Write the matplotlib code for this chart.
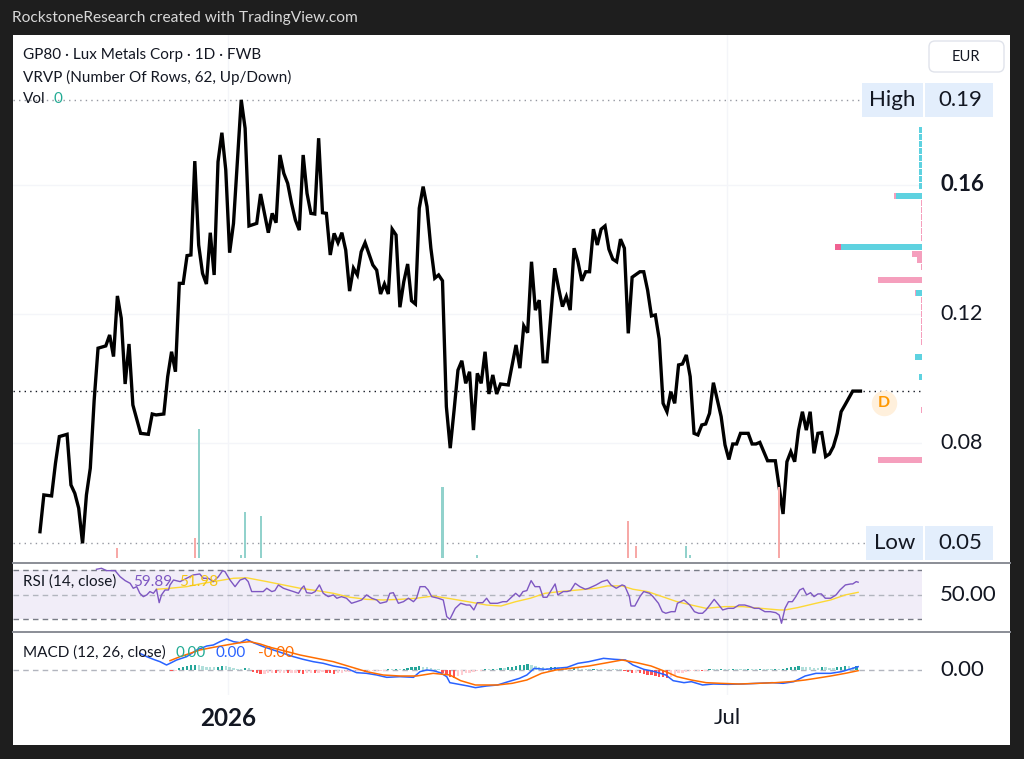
import matplotlib.pyplot as plt
import matplotlib.transforms as mtransforms
from matplotlib.patches import Rectangle, FancyBboxPatch
from matplotlib.lines import Line2D

plt.rcParams['font.family'] = ['Lato', 'DejaVu Sans']

# ---- data (x = bar number, bar 0 = first close) ----
close_pts = [
    (0, 0.0525), (1, 0.0639), (3, 0.0636), (4, 0.0737), (5, 0.0820), (7, 0.0827),
    (8, 0.0670), (9, 0.0644), (10, 0.0598), (11, 0.0489), (12, 0.0639), (13, 0.0722),
    (14, 0.0933), (15, 0.1094), (17, 0.1101), (18, 0.1135), (19, 0.1068), (20, 0.1256),
    (21, 0.1187), (22, 0.0983), (23, 0.1107), (24, 0.0918), (26, 0.0830), (28, 0.0827),
    (29, 0.0890), (30, 0.0887), (32, 0.0890), (33, 0.1006), (34, 0.1083), (35, 0.1021),
    (36, 0.1295), (37, 0.1295), (38, 0.1381), (39, 0.1383), (40, 0.1674), (41, 0.1414),
    (42, 0.1326), (43, 0.1293), (44, 0.1452), (45, 0.1321), (46, 0.1672), (47, 0.1762),
    (48, 0.1647), (49, 0.1390), (50, 0.1481), (52, 0.1864), (53, 0.1776), (54, 0.1473),
    (56, 0.1481), (57, 0.1572), (58, 0.1512), (59, 0.1452), (60, 0.1512), (61, 0.1483),
    (62, 0.1693), (63, 0.1636), (64, 0.1605), (65, 0.1543), (66, 0.1491), (67, 0.1460),
    (68, 0.1693), (69, 0.1574), (70, 0.1512), (71, 0.1510), (72, 0.1745), (73, 0.1514),
    (74, 0.1512), (75, 0.1383), (76, 0.1450), (77, 0.1421), (78, 0.1452), (79, 0.1398),
    (80, 0.1271), (81, 0.1342), (82, 0.1321), (83, 0.1393), (84, 0.1421), (86, 0.1352),
    (87, 0.1336), (88, 0.1262), (89, 0.1293), (90, 0.1262), (91, 0.1463), (92, 0.1445),
    (93, 0.1221), (94, 0.1300), (95, 0.1355), (96, 0.1241), (97, 0.1231), (98, 0.1528),
    (99, 0.1595), (100, 0.1533), (101, 0.1404), (102, 0.1311), (103, 0.1321), (104, 0.1303),
    (105, 0.0913), (106, 0.0784), (107, 0.0902), (108, 0.1026), (109, 0.1055), (110, 0.0985),
    (111, 0.1021), (112, 0.0840), (113, 0.1016), (114, 0.0985), (115, 0.1083), (116, 0.0952),
    (117, 0.1011), (118, 0.0952), (119, 0.0983), (121, 0.0980), (123, 0.1104), (124, 0.1032),
    (125, 0.1163), (126, 0.1142), (127, 0.1362), (128, 0.1212), (129, 0.1243), (130, 0.1052),
    (131, 0.1052), (133, 0.1342), (134, 0.1280), (135, 0.1223), (136, 0.1254), (137, 0.1212),
    (138, 0.1404), (139, 0.1362), (140, 0.1303), (141, 0.1331), (142, 0.1331), (143, 0.1463),
    (144, 0.1414), (145, 0.1463), (146, 0.1473), (147, 0.1401), (148, 0.1370), (149, 0.1362),
    (150, 0.1432), (151, 0.1404), (152, 0.1140), (153, 0.1314), (155, 0.1331), (156, 0.1331),
    (157, 0.1274), (158, 0.1194), (159, 0.1197), (160, 0.1122), (161, 0.0923), (162, 0.0897),
    (163, 0.0959), (164, 0.0923), (165, 0.1042), (166, 0.1045), (167, 0.1073), (168, 0.1006),
    (169, 0.0830), (170, 0.0825), (171, 0.0856), (172, 0.0859), (173, 0.0892), (174, 0.0987),
    (176, 0.0882), (177, 0.0794), (178, 0.0749), (179, 0.0797), (180, 0.0797), (181, 0.0830),
    (183, 0.0830), (184, 0.0797), (185, 0.0797), (186, 0.0802), (188, 0.0745), (190, 0.0745),
    (192, 0.0580), (193, 0.0742), (194, 0.0773), (195, 0.0742), (196, 0.0840), (197, 0.0897),
    (198, 0.0840), (199, 0.0897), (200, 0.0768), (201, 0.0830), (202, 0.0832), (203, 0.0758),
    (204, 0.0766), (205, 0.0789), (206, 0.0830), (207, 0.0897), (208, 0.0918), (210, 0.0961),
    (212, 0.0961),
]

# (bar, volume, up-day?)
volume_bars = [
    (20, 10000, False), (40, 20000, False), (41, 129000, True), (52, 3000, True),
    (53, 46000, True), (57, 42000, True), (104, 71000, True), (113, 3000, True),
    (152, 37000, False), (154, 12000, False), (167, 12000, True), (168, 3000, True),
    (191, 71000, False),
]

# visible range volume profile rows: (price, up volume, down volume)
vrvp_rows = [
    (0.1771, 30, 0), (0.1749, 30, 0), (0.1727, 30, 0), (0.1705, 30, 0), (0.1684, 30, 0),
    (0.1662, 30, 0), (0.1640, 30, 0), (0.1619, 30, 0), (0.1597, 30, 0),
    (0.1566, 260, 20),
    (0.1544, 0, 15), (0.1522, 0, 15), (0.1501, 0, 15), (0.1479, 0, 15), (0.1457, 0, 15),
    (0.1435, 0, 15),
    (0.1408, 810, 60), (0.1386, 0, 100), (0.1367, 0, 50), (0.1345, 0, 12),
    (0.1305, 0, 440), (0.1265, 60, 10),
    (0.1243, 0, 10), (0.1222, 0, 10), (0.1200, 0, 10), (0.1178, 0, 10), (0.1157, 0, 10),
    (0.1135, 0, 10), (0.1113, 0, 10),
    (0.1067, 70, 0), (0.1005, 30, 0), (0.0902, 0, 10), (0.0747, 0, 440),
]

rsi_pts = [
    (14.6, 70.6), (15.9, 71.4), (17.2, 69.5), (19.4, 69.5), (20.7, 64.6), (22.0, 61.4),
    (23.3, 59.2), (24.1, 55.2), (25.0, 56.5), (25.8, 51.1), (26.7, 48.4), (27.6, 49.8),
    (28.4, 52.5), (29.3, 51.1), (30.1, 54.4), (30.8, 43.5), (31.4, 49.8), (32.3, 53.8),
    (33.2, 53.8), (33.6, 57.9), (34.5, 61.9), (36.2, 60.6), (37.9, 63.3), (39.6, 66.0),
    (41.3, 66.8), (42.2, 63.3), (43.5, 63.3), (44.8, 60.6), (46.1, 64.6), (47.2, 69.5),
    (47.8, 68.7), (49.1, 61.9), (50.4, 56.5), (51.7, 61.9), (53.0, 63.3), (53.8, 60.6),
    (54.7, 52.5), (56.0, 52.5), (57.7, 52.5), (58.6, 55.2), (59.9, 52.5), (60.7, 53.3),
    (61.6, 57.9), (62.9, 55.2), (64.2, 53.8), (65.5, 52.5), (66.8, 51.1), (67.6, 55.2),
    (68.2, 57.1), (68.9, 51.6), (70.2, 51.1), (71.1, 52.5), (72.2, 57.9), (73.2, 51.1),
    (74.5, 48.4), (75.8, 49.8), (76.7, 47.1), (77.9, 48.4), (79.2, 47.1), (80.5, 43.0),
    (81.8, 44.3), (83.1, 45.7), (84.4, 49.8), (85.7, 47.1), (87.0, 45.7), (87.9, 43.0),
    (89.6, 44.3), (90.4, 51.1), (91.3, 51.6), (92.6, 43.0), (93.9, 44.3), (95.2, 47.1),
    (96.5, 44.3), (97.3, 47.1), (98.2, 56.5), (99.5, 56.5), (100.3, 53.8), (101.2, 48.4),
    (102.9, 47.1), (104.2, 45.7), (105.1, 32.2), (105.9, 30.0), (107.3, 38.9), (108.7, 43.0),
    (110.2, 41.6), (111.1, 41.6), (112.1, 37.6), (113.0, 43.5), (114.4, 43.5), (115.4, 47.1),
    (116.3, 43.0), (118.2, 43.0), (119.6, 44.3), (120.6, 44.3), (122.0, 48.4), (122.9, 51.1),
    (123.9, 48.4), (124.8, 52.5), (125.8, 53.3), (126.9, 61.4), (127.9, 56.5), (129.1, 56.5),
    (130.0, 47.9), (131.0, 47.9), (131.9, 52.5), (133.1, 58.7), (133.8, 49.8), (135.2, 52.5),
    (136.2, 52.5), (137.1, 53.3), (138.3, 59.2), (139.5, 56.5), (140.9, 54.4), (141.8, 55.2),
    (143.7, 57.9), (145.2, 60.6), (146.6, 61.9), (147.5, 57.9), (148.9, 55.2), (149.6, 56.5),
    (150.4, 57.9), (151.1, 57.1), (152.3, 48.4), (152.7, 40.8), (153.7, 40.8), (155.1, 48.9),
    (156.0, 52.5), (157.5, 51.1), (158.4, 48.4), (159.8, 43.0), (160.8, 36.2), (161.7, 34.9),
    (163.1, 36.2), (164.1, 36.2), (164.7, 43.0), (166.4, 45.7), (167.9, 41.6), (169.1, 36.2),
    (170.2, 34.9), (171.2, 34.9), (172.1, 37.6), (173.1, 41.6), (174.2, 46.2), (175.4, 41.6),
    (176.4, 37.6), (177.8, 38.9), (179.2, 38.9), (180.6, 41.6), (182.1, 41.6), (183.5, 40.3),
    (184.6, 38.9), (185.8, 38.9), (187.3, 36.2), (188.7, 36.2), (190.1, 35.4), (191.0, 33.5),
    (191.6, 26.8), (192.5, 38.9), (193.4, 44.3), (194.4, 44.3), (195.3, 48.4), (196.3, 53.8),
    (197.2, 55.2), (198.1, 49.8), (199.1, 51.6), (200.0, 48.4), (201.0, 50.6), (201.9, 50.6),
    (202.9, 47.1), (204.3, 47.1), (205.7, 49.8), (206.7, 53.8), (208.1, 57.9), (209.5, 58.7),
    (210.0, 58.7), (210.9, 60.6), (211.4, 60.1),
]

rsi_ma_pts = [
    (30.1, 54.4), (33.6, 55.2), (37.9, 56.5), (41.3, 58.7), (44.8, 60.6), (50.0, 63.3),
    (53.4, 63.7), (58.6, 60.6), (62.9, 57.9), (67.2, 55.2), (71.5, 53.3), (75.8, 51.1),
    (80.1, 47.9), (84.4, 46.2), (88.7, 45.7), (93.0, 46.2), (97.3, 47.1), (101.6, 48.9),
    (105.9, 46.8), (110.6, 44.3), (115.4, 41.6), (119.1, 40.8), (122.9, 44.3), (126.7, 47.1),
    (130.5, 51.1), (134.3, 52.5), (139.0, 53.8), (143.7, 55.2), (146.6, 57.1), (150.4, 57.1),
    (153.2, 54.4), (157.0, 52.5), (160.8, 48.4), (164.6, 44.3), (168.3, 41.6), (172.1, 38.9),
    (176.9, 40.3), (181.6, 40.3), (186.3, 38.9), (191.0, 37.6), (192.5, 37.6), (195.8, 39.5),
    (200.5, 43.0), (204.3, 45.7), (208.1, 49.8), (211.4, 51.9),
]

macd_pts = [
    (25.8, 0.0025), (27.6, 0.0020), (29.3, 0.0016), (31.0, 0.00125), (32.7, 0.00075),
    (33.6, 0.0010), (35.3, 0.0015), (37.9, 0.0020), (40.5, 0.0030), (43.1, 0.0036),
    (44.8, 0.00375), (46.5, 0.00425), (48.2, 0.00465), (50.0, 0.00425), (51.7, 0.0041),
    (53.4, 0.0046), (55.1, 0.0041), (57.7, 0.0035), (60.3, 0.0030), (62.9, 0.0025),
    (65.5, 0.0020), (68.0, 0.0016), (70.6, 0.00125), (73.2, 0.0010), (75.8, 0.0006),
    (79.2, 0.00025), (81.8, -0.0004), (84.4, -0.0005), (87.0, -0.00075), (89.6, -0.0011),
    (93.0, -0.0010), (96.5, -0.0011), (98.2, -0.00025), (99.9, 0.0), (101.6, -0.0001),
    (103.4, -0.0004), (105.1, -0.0010), (105.9, -0.0019), (107.8, -0.0021), (110.6, -0.0024),
    (112.5, -0.00265), (115.4, -0.0024), (118.2, -0.00225), (121.0, -0.00175), (123.9, -0.00125),
    (125.8, -0.00075), (127.7, 0.00025), (130.5, 0.0001), (133.3, 0.00025), (136.2, 0.0004),
    (139.0, 0.0010), (141.8, 0.00125), (145.6, 0.00175), (148.5, 0.0016), (151.3, 0.0015),
    (153.2, 0.00075), (156.0, 0.0001), (158.9, -0.00025), (161.7, -0.00075), (163.6, -0.0016),
    (166.4, -0.0019), (168.3, -0.00175), (171.2, -0.00225), (174.0, -0.0021), (177.8, -0.00215),
    (181.6, -0.0021), (185.4, -0.0020), (189.2, -0.0019), (192.0, -0.0020), (194.8, -0.00175),
    (197.7, -0.0009), (200.5, -0.0005), (204.3, -0.0005), (207.1, -0.00025), (210.0, 0.00025),
    (211.4, 0.0005),
]

signal_pts = [
    (33.6, 0.0014), (36.2, 0.0020), (38.8, 0.0025), (41.3, 0.0030), (44.8, 0.0034),
    (48.2, 0.00375), (51.7, 0.0041), (54.3, 0.00425), (56.9, 0.0039), (59.5, 0.0034),
    (62.9, 0.0029), (67.2, 0.00225), (71.5, 0.00175), (75.8, 0.00125), (80.1, 0.0005),
    (84.4, -0.00025), (88.7, -0.00075), (93.0, -0.0009), (97.3, -0.0009), (101.6, -0.0005),
    (105.9, -0.00075), (108.7, -0.0016), (112.5, -0.00225), (118.2, -0.00225), (122.0, -0.0020),
    (125.8, -0.0015), (129.6, -0.0005), (133.3, 0.0), (137.1, 0.00025), (141.8, 0.0006),
    (146.6, 0.0011), (150.4, 0.0015), (154.2, 0.0011), (157.9, 0.0006), (161.7, -0.00025),
    (164.6, -0.0010), (168.3, -0.0015), (172.1, -0.0019), (175.9, -0.0020), (180.6, -0.0021),
    (185.4, -0.0020), (190.1, -0.0019), (193.9, -0.00175), (197.7, -0.0015), (200.5, -0.00125),
    (204.3, -0.0009), (208.1, -0.0005), (211.4, -0.0001),
]

hist_start = 34
hist_vals = [
    -0.0002, -0.0001, 0.0003, 0.0005, 0.0006, 0.0007, 0.0008, 0.0007, 0.0006, 0.0005,
    0.0004, 0.0004, 0.0005, 0.0006, 0.0006, 0.0004, 0.0003, 0.0002, 0.0001, 0.0003,
    0.0003, -0.0003, -0.0005, -0.0006, -0.0006, -0.0005, -0.0004, -0.0005, -0.0004, -0.0004,
    -0.0005, -0.0004, -0.0004, -0.0005, -0.0006, -0.0005, -0.0004, -0.0005, -0.0004, -0.0003,
    -0.0004, -0.0005, -0.0006, -0.0005, -0.0004, -0.0003, -0.0003, -0.0002, -0.0002, -0.0002,
    -0.0003, -0.0002, -0.0002, -0.0001, -0.0001, -0.0001, 0.0001, 0.0001, 0.0002, 0.0001,
    0.0002, 0.0003, 0.0004, 0.0005, 0.0006, 0.0005, 0.0004, 0.0003, 0.0002, 0.0001,
    -0.0004, -0.0008, -0.0011, -0.0012, -0.0009, -0.0007, -0.0005, -0.0004, -0.0003, -0.0002,
    -0.0001, 0.0001, 0.0001, 0.0002, 0.0002, 0.0003, 0.0003, 0.0004, 0.0005, 0.0006,
    0.0007, 0.0008, 0.0009, 0.0008, 0.0006, 0.0005, 0.0004, 0.0003, 0.0004, 0.0005,
    0.0004, 0.0003, 0.0003, 0.0002, 0.0003, 0.0003, 0.0002, 0.0002, 0.0001, 0.0002,
    0.0002, 0.0001, 0.0001, 0.0001, 0.0001, 0.0001, 0.0001, -0.0001, -0.0003, -0.0004,
    -0.0004, -0.0005, -0.0006, -0.0007, -0.0008, -0.0009, -0.0010, -0.0011, -0.0012, -0.0010,
    -0.0007, -0.0005, -0.0004, -0.0003, -0.0002, -0.0002, -0.0001, -0.0002, -0.0001, 0.0001,
    0.0001, 0.0001, 0.0002, 0.0001, 0.0001, 0.0002, 0.0001, 0.0001, 0.0001, 0.0002,
    0.0001, 0.0001, 0.0002, 0.0002, 0.0001, 0.0001, 0.0002, 0.0001, 0.0002, 0.0003,
    0.0004, 0.0005, 0.0006, 0.0005, 0.0004, 0.0004, 0.0003, 0.0003, 0.0004, 0.0004,
    0.0003, 0.0003, 0.0004, 0.0005, 0.0006, 0.0006, 0.0005, 0.0006,
]

time_ticks = [48.6, 177.5]
time_labels = ['2026', 'Jul']
price_ticks = [0.16, 0.12, 0.08]
dividend_mark = (218, 0.0924)

bars = [b for b, c in close_pts]
closes = [c for b, c in close_pts]
high_price, low_price, last_price = max(closes), min(closes), closes[-1]

# ---- layout helpers (pixel positions of the 1024x759 canvas) ----
W, H = 1024, 759
def PX(x): return x / W
def PY(y): return 1 - y / H

fig = plt.figure(figsize=(10.24, 7.59), dpi=100, facecolor='#1e1e1e')
fig.patches.append(Rectangle((PX(12.7), PY(745)), PX(1010) - PX(12.7), PY(35) - PY(745),
                             transform=fig.transFigure, facecolor='white', edgecolor='none', zorder=-5))
fig.text(PX(12), PY(18), 'RockstoneResearch created with TradingView.com', color='#d8d8d8',
         fontsize=11.2, va='center')

L, R = 12.7, 922
ax = fig.add_axes([PX(L), PY(563), PX(R) - PX(L), PY(35) - PY(563)], facecolor='none')
ax_rsi = fig.add_axes([PX(L), PY(632), PX(R) - PX(L), PY(563) - PY(632)], facecolor='none', sharex=ax)
ax_m = fig.add_axes([PX(L), PY(695), PX(R) - PX(L), PY(632) - PY(695)], facecolor='none', sharex=ax)
for a in (ax, ax_rsi, ax_m):
    a.set_axis_off()
ax.set_xlim(-7.05, 227.9)
ax.set_ylim(0.0428, 0.2065)

# pane separators
for y in (562.5, 632):
    fig.add_artist(Line2D([PX(L), PX(1010)], [PY(y), PY(y)], transform=fig.transFigure,
                          color='#8a8d96', lw=1.4))

grid_c = '#f4f5f9'
for t in time_ticks:
    for a in (ax, ax_rsi, ax_m):
        a.axvline(t, color=grid_c, lw=1, zorder=0)
for p in price_ticks:
    ax.axhline(p, color=grid_c, lw=1, zorder=0)

# ---- volume overlay ----
ax_vol = ax.twinx()
ax_vol.set_axis_off()
ax_vol.set_ylim(-5000, 523000)
ax_vol.bar([v[0] for v in volume_bars], [v[1] for v in volume_bars], width=0.55,
           color=['#92d2cc' if v[2] else '#f7a9a7' for v in volume_bars], zorder=1)

# ---- volume profile (anchored at right edge) ----
ax_vp = ax.twiny()
ax_vp.set_axis_off()
ax_vp.set_xlim(9093, 0)
poc = max(vrvp_rows, key=lambda r: r[1] + r[2])
for price, up, down in vrvp_rows:
    if up:
        ax_vp.barh(price, up, height=0.0018, left=0, color='#5ed2e0', zorder=1)
    if down:
        ax_vp.barh(price, down, height=0.0018, left=up,
                   color='#f06292' if price == poc[0] else '#f59fbd', zorder=1)

# ---- price ----
tr_main = mtransforms.blended_transform_factory(fig.transFigure, ax.transData)
ax.axhline(high_price, color='#9598a1', lw=1, ls=(0, (1, 3)), xmax=0.933)
ax.axhline(low_price, color='#9598a1', lw=1, ls=(0, (1, 3)), xmax=0.938)
ax.axhline(last_price, color='#131722', lw=1, ls=(0, (1, 3)))
ax.plot(bars, closes, color='black', lw=2.4, solid_joinstyle='miter', zorder=5)

ax.scatter([dividend_mark[0]], [dividend_mark[1]], s=300, color='#fff0dc', zorder=6)
ax.text(dividend_mark[0], dividend_mark[1], 'D', color='#ff9800', fontsize=11.5,
        fontweight='bold', ha='center', va='center', zorder=7)

for p in price_ticks:
    ax.text(PX(962), p, f'{p:.2f}', transform=tr_main, ha='center', va='center',
            fontsize=16 if p == 0.16 else 15.5, color='#131722',
            fontweight='bold' if p == 0.16 else 'normal')

box_h = 0.0105
for val, word, xw in ((high_price, 'High', 862), (low_price, 'Low', 866)):
    fig.patches.append(Rectangle((PX(xw), val - box_h / 2), PX(922.5) - PX(xw), box_h,
                                 transform=tr_main, facecolor='#e3eefc', edgecolor='none'))
    fig.patches.append(Rectangle((PX(924.5), val - box_h / 2), PX(993) - PX(924.5), box_h,
                                 transform=tr_main, facecolor='#e3eefc', edgecolor='none'))
    t1 = fig.text((PX(xw) + PX(922.5)) / 2, 0, word, transform=tr_main, fontsize=16,
                  ha='center', va='center', color='#131722')
    t1.set_y(val)
    t2 = fig.text(PX(960), 0, f'{val:.2f}', transform=tr_main, fontsize=16,
                  ha='center', va='center', color='#131722')
    t2.set_y(val)

fig.patches.append(FancyBboxPatch((9.29, (H - 72) / 100), 0.75, 0.31,
                                  boxstyle='round,pad=0,rounding_size=0.06',
                                  transform=fig.dpi_scale_trans, facecolor='white',
                                  edgecolor='#e0e3eb', lw=1))
fig.text(PX(966), PY(57), 'EUR', fontsize=10.5, ha='center', va='center', color='#131722')

fig.text(PX(23), PY(55), 'GP80 · Lux Metals Corp · 1D · FWB', fontsize=11, va='center', color='#131722')
fig.text(PX(23), PY(77), 'VRVP (Number Of Rows, 62, Up/Down)', fontsize=11, va='center', color='#131722')
fig.text(PX(23), PY(99), 'Vol', fontsize=11, va='center', color='#131722')
fig.text(PX(53), PY(99), '0', fontsize=11, va='center', color='#22ab94')

# ---- RSI ----
ax_rsi.set_ylim(19.7, 75.7)
ax_rsi.axhspan(30, 70, color='#7e57c2', alpha=0.1, lw=0, zorder=0)
for lvl, c in ((70, '#787b86'), (50, '#b2b5be'), (30, '#787b86')):
    ax_rsi.axhline(lvl, color=c, lw=1, ls=(0, (4, 3)), zorder=1)
ax_rsi.plot([p[0] for p in rsi_ma_pts], [p[1] for p in rsi_ma_pts], color='#fdd835', lw=1, zorder=2)
ax_rsi.plot([p[0] for p in rsi_pts], [p[1] for p in rsi_pts], color='#7e57c2', lw=1, zorder=3)
tr_rsi = mtransforms.blended_transform_factory(fig.transFigure, ax_rsi.transData)
ax_rsi.text(PX(968), 50, '50.00', transform=tr_rsi, ha='center', va='center', fontsize=16, color='#131722')
fig.text(PX(23), PY(582), 'RSI (14, close)', fontsize=11, va='center', color='#131722')
fig.text(PX(133), PY(582), '59.89', fontsize=11, va='center', color='#7e57c2')
fig.text(PX(179), PY(582), '51.98', fontsize=11, va='center', color='#f5c518')

# ---- MACD ----
ax_m.set_ylim(-0.00375, 0.0057)
ax_m.axhline(0, color='#b2b5be', lw=1, ls=(0, (4, 3)), zorder=1)
hist_x = [hist_start + i for i in range(len(hist_vals))]
hist_c = []
for i, v in enumerate(hist_vals):
    prev = hist_vals[i - 1] if i else 0
    if v >= 0:
        hist_c.append('#26a69a' if v > prev else '#b2dfdb')
    else:
        hist_c.append('#ff5252' if v < prev else '#ffcdd2')
ax_m.bar(hist_x, hist_vals, width=0.6, color=hist_c, zorder=2)
ax_m.plot([p[0] for p in macd_pts], [p[1] for p in macd_pts], color='#2962ff', lw=1.1, zorder=3)
ax_m.plot([p[0] for p in signal_pts], [p[1] for p in signal_pts], color='#ff6d00', lw=1.1, zorder=3)
tr_m = mtransforms.blended_transform_factory(fig.transFigure, ax_m.transData)
ax_m.text(PX(962), 0, '0.00', transform=tr_m, ha='center', va='center', fontsize=16, color='#131722')
fig.text(PX(23), PY(653), 'MACD (12, 26, close)', fontsize=11, va='center', color='#131722')
fig.text(PX(176), PY(653), '0.00', fontsize=11, va='center', color='#22ab94')
fig.text(PX(216), PY(653), '0.00', fontsize=11, va='center', color='#2962ff')
fig.text(PX(258), PY(653), '-0.00', fontsize=11, va='center', color='#ff6d00')

# ---- time axis ----
tr_t = mtransforms.blended_transform_factory(ax_m.transData, fig.transFigure)
for t, lab in zip(time_ticks, time_labels):
    ax_m.text(t, PY(718), lab, transform=tr_t, ha='center', va='center', color='#131722',
              fontsize=17.5 if lab == '2026' else 16,
              fontweight='bold' if lab == '2026' else 'normal')

fig.savefig('out.png', dpi=100, facecolor=fig.get_facecolor())
